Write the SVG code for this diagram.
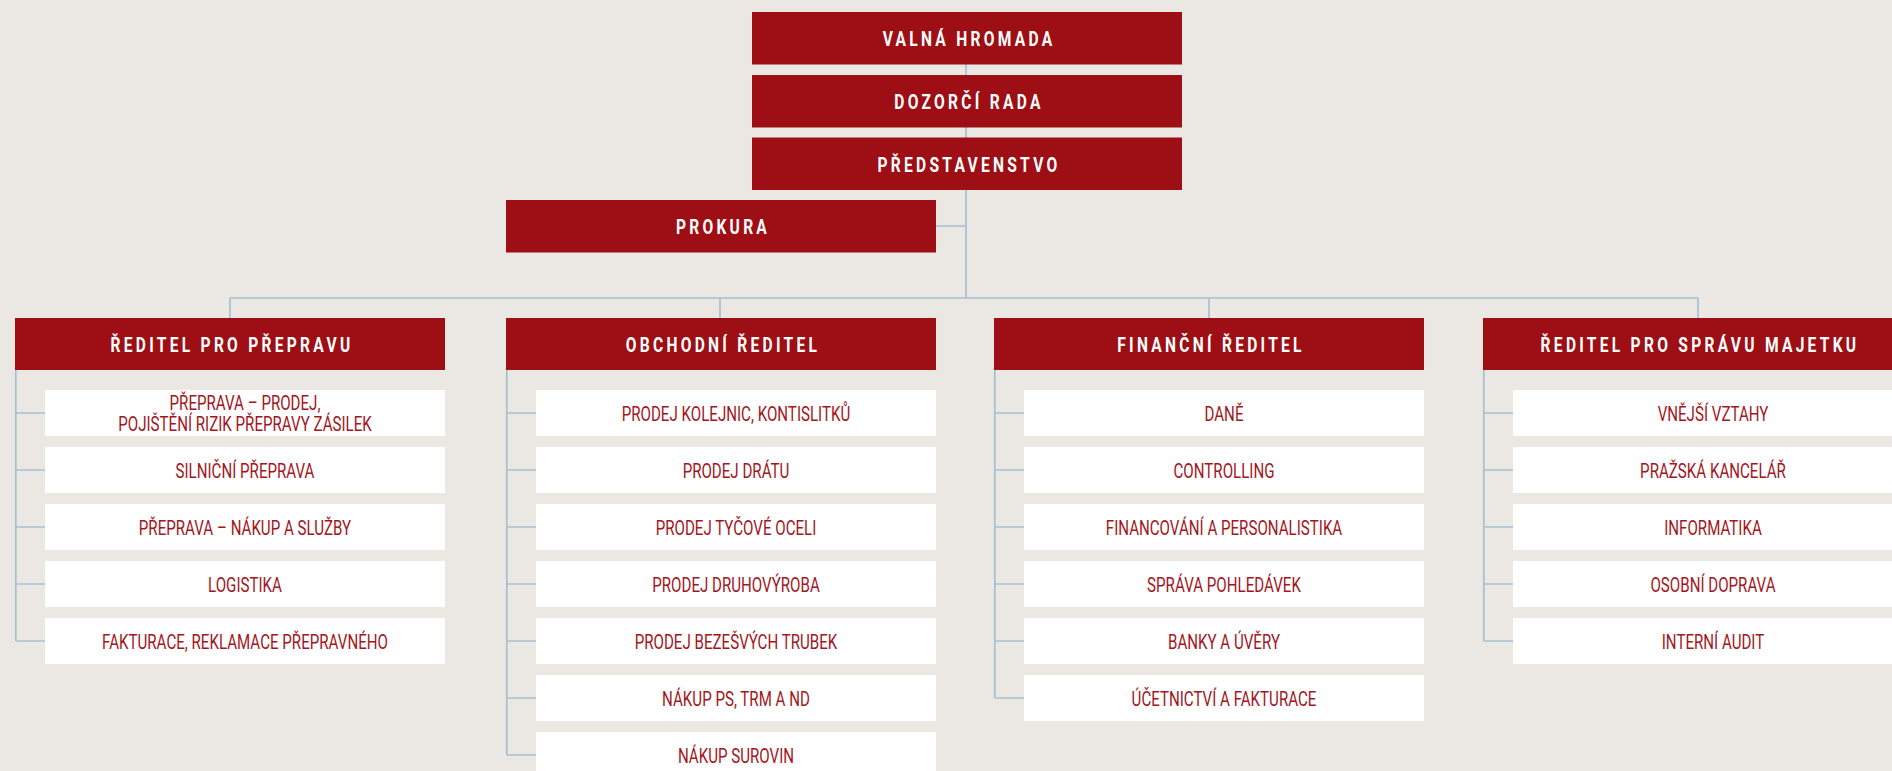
<svg xmlns="http://www.w3.org/2000/svg" width="1892" height="771" viewBox="0 0 1892 771">
<style>
.bg{fill:#ebe8e3}
.red{fill:#9d0f14}
.wb{fill:#ffffff}
.ln{stroke:#a6c0d3;stroke-width:1.7;fill:none}
.ht{font-family:Roboto,'Liberation Sans',sans-serif;font-weight:700;font-size:20.5px;letter-spacing:4.3px;fill:#ffffff;text-anchor:middle}
.st{font-family:Roboto,'Liberation Sans',sans-serif;font-weight:400;font-size:19.5px;fill:#a3161d;text-anchor:middle}
</style>
<rect class="bg" x="0" y="0" width="1892" height="771"/>
<g id="connectors">
<path class="ln" d="M966 64V298M936 226H966M230 298H1698M230 298V318M720 298V318M1209 298V318M1698 298V318"/>
<path class="ln" d="M15.8 370V641M15.8 413H45M15.8 470H45M15.8 527H45M15.8 584H45M15.8 641H45"/>
<path class="ln" d="M506.8 370V755M506.8 413H536M506.8 470H536M506.8 527H536M506.8 584H536M506.8 641H536M506.8 698H536M506.8 755H536"/>
<path class="ln" d="M994.8 370V698M994.8 413H1024M994.8 470H1024M994.8 527H1024M994.8 584H1024M994.8 641H1024M994.8 698H1024"/>
<path class="ln" d="M1483.8 370V641M1483.8 413H1513M1483.8 470H1513M1483.8 527H1513M1483.8 584H1513M1483.8 641H1513"/>
</g>
<g id="valna-hromada"><rect class="red" x="752" y="12" width="430" height="52.5"/><text class="ht" transform="translate(969,46) scale(0.76,1)">VALNÁ HROMADA</text></g>
<g id="dozorci-rada"><rect class="red" x="752" y="75" width="430" height="52.5"/><text class="ht" transform="translate(969,109) scale(0.76,1)">DOZORČÍ RADA</text></g>
<g id="predstavenstvo"><rect class="red" x="752" y="137.5" width="430" height="52.5"/><text class="ht" transform="translate(969,171.5) scale(0.76,1)">PŘEDSTAVENSTVO</text></g>
<g id="prokura"><rect class="red" x="506" y="200" width="430" height="52.5"/><text class="ht" transform="translate(723,234) scale(0.76,1)">PROKURA</text></g>

<g id="reditel-prepravu"><rect class="red" x="15" y="318" width="430" height="52"/><text class="ht" transform="translate(232,352) scale(0.76,1)">ŘEDITEL PRO PŘEPRAVU</text></g>
<g id="obchodni-reditel"><rect class="red" x="506" y="318" width="430" height="52"/><text class="ht" transform="translate(723,352) scale(0.76,1)">OBCHODNÍ ŘEDITEL</text></g>
<g id="financni-reditel"><rect class="red" x="994" y="318" width="430" height="52"/><text class="ht" transform="translate(1211,352) scale(0.76,1)">FINANČNÍ ŘEDITEL</text></g>
<g id="reditel-majetku"><rect class="red" x="1483" y="318" width="430" height="52"/><text class="ht" transform="translate(1700,352) scale(0.76,1)">ŘEDITEL PRO SPRÁVU MAJETKU</text></g>

<g id="c1-1"><rect class="wb" x="45" y="390" width="400" height="46"/><text class="st" transform="translate(245,410) scale(0.775,1)">PŘEPRAVA – PRODEJ,</text><text class="st" transform="translate(245,431) scale(0.775,1)">POJIŠTĚNÍ RIZIK PŘEPRAVY ZÁSILEK</text></g>
<g id="c1-2"><rect class="wb" x="45" y="447" width="400" height="46"/><text class="st" transform="translate(245,477.5) scale(0.775,1)">SILNIČNÍ PŘEPRAVA</text></g>
<g id="c1-3"><rect class="wb" x="45" y="504" width="400" height="46"/><text class="st" transform="translate(245,534.5) scale(0.775,1)">PŘEPRAVA – NÁKUP A SLUŽBY</text></g>
<g id="c1-4"><rect class="wb" x="45" y="561" width="400" height="46"/><text class="st" transform="translate(245,591.5) scale(0.775,1)">LOGISTIKA</text></g>
<g id="c1-5"><rect class="wb" x="45" y="618" width="400" height="46"/><text class="st" transform="translate(245,648.5) scale(0.775,1)">FAKTURACE, REKLAMACE PŘEPRAVNÉHO</text></g>

<g id="c2-1"><rect class="wb" x="536" y="390" width="400" height="46"/><text class="st" transform="translate(736,420.5) scale(0.775,1)">PRODEJ KOLEJNIC, KONTISLITKŮ</text></g>
<g id="c2-2"><rect class="wb" x="536" y="447" width="400" height="46"/><text class="st" transform="translate(736,477.5) scale(0.775,1)">PRODEJ DRÁTU</text></g>
<g id="c2-3"><rect class="wb" x="536" y="504" width="400" height="46"/><text class="st" transform="translate(736,534.5) scale(0.775,1)">PRODEJ TYČOVÉ OCELI</text></g>
<g id="c2-4"><rect class="wb" x="536" y="561" width="400" height="46"/><text class="st" transform="translate(736,591.5) scale(0.775,1)">PRODEJ DRUHOVÝROBA</text></g>
<g id="c2-5"><rect class="wb" x="536" y="618" width="400" height="46"/><text class="st" transform="translate(736,648.5) scale(0.775,1)">PRODEJ BEZEŠVÝCH TRUBEK</text></g>
<g id="c2-6"><rect class="wb" x="536" y="675" width="400" height="46"/><text class="st" transform="translate(736,705.5) scale(0.775,1)">NÁKUP PS, TRM A ND</text></g>
<g id="c2-7"><rect class="wb" x="536" y="732" width="400" height="46"/><text class="st" transform="translate(736,762.5) scale(0.775,1)">NÁKUP SUROVIN</text></g>

<g id="c3-1"><rect class="wb" x="1024" y="390" width="400" height="46"/><text class="st" transform="translate(1224,420.5) scale(0.775,1)">DANĚ</text></g>
<g id="c3-2"><rect class="wb" x="1024" y="447" width="400" height="46"/><text class="st" transform="translate(1224,477.5) scale(0.775,1)">CONTROLLING</text></g>
<g id="c3-3"><rect class="wb" x="1024" y="504" width="400" height="46"/><text class="st" transform="translate(1224,534.5) scale(0.775,1)">FINANCOVÁNÍ A PERSONALISTIKA</text></g>
<g id="c3-4"><rect class="wb" x="1024" y="561" width="400" height="46"/><text class="st" transform="translate(1224,591.5) scale(0.775,1)">SPRÁVA POHLEDÁVEK</text></g>
<g id="c3-5"><rect class="wb" x="1024" y="618" width="400" height="46"/><text class="st" transform="translate(1224,648.5) scale(0.775,1)">BANKY A ÚVĚRY</text></g>
<g id="c3-6"><rect class="wb" x="1024" y="675" width="400" height="46"/><text class="st" transform="translate(1224,705.5) scale(0.775,1)">ÚČETNICTVÍ A FAKTURACE</text></g>

<g id="c4-1"><rect class="wb" x="1513" y="390" width="400" height="46"/><text class="st" transform="translate(1713,420.5) scale(0.775,1)">VNĚJŠÍ VZTAHY</text></g>
<g id="c4-2"><rect class="wb" x="1513" y="447" width="400" height="46"/><text class="st" transform="translate(1713,477.5) scale(0.775,1)">PRAŽSKÁ KANCELÁŘ</text></g>
<g id="c4-3"><rect class="wb" x="1513" y="504" width="400" height="46"/><text class="st" transform="translate(1713,534.5) scale(0.775,1)">INFORMATIKA</text></g>
<g id="c4-4"><rect class="wb" x="1513" y="561" width="400" height="46"/><text class="st" transform="translate(1713,591.5) scale(0.775,1)">OSOBNÍ DOPRAVA</text></g>
<g id="c4-5"><rect class="wb" x="1513" y="618" width="400" height="46"/><text class="st" transform="translate(1713,648.5) scale(0.775,1)">INTERNÍ AUDIT</text></g>
</svg>
